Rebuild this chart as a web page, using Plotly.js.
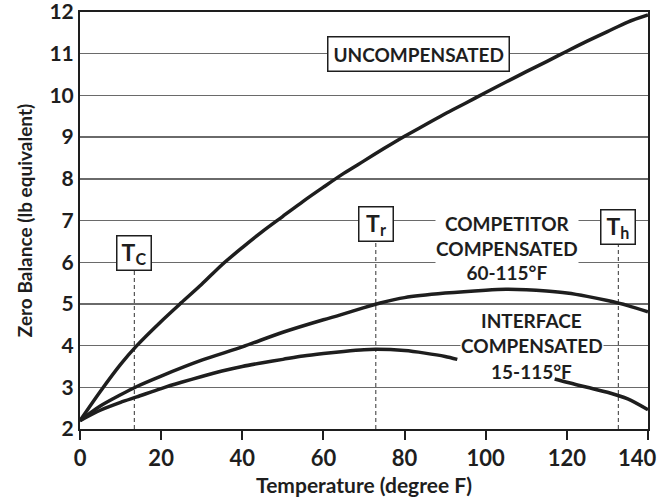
<!DOCTYPE html>
<html><head><meta charset="utf-8">
<script src="https://cdn.plot.ly/plotly-3.0.1.min.js"></script>
<style>html,body{margin:0;padding:0;background:#fff}</style>
</head><body><div id="chart" style="width:659px;height:499px"></div>
<script>
// ---- data ----
const uncompTemps = [0,5,10,14,20,25,30,35,40,45,50,55,60,65,70,75,80,85,90,95,100,105,110,115,120,125,130,135,140];
const uncompVals  = [2.2,2.9,3.55,4.0,4.58,5.03,5.47,5.94,6.35,6.74,7.1,7.46,7.8,8.13,8.43,8.73,9.02,9.29,9.56,9.81,10.07,10.32,10.57,10.81,11.06,11.3,11.53,11.76,11.93];

const competitorTemps = [0,5,10,14,20,30,40,50,60,64,70,74,80,90,100,105,110,115,120,125,130,135,140];
const competitorVals  = [2.2,2.55,2.82,3.02,3.27,3.65,3.97,4.32,4.62,4.73,4.91,5.02,5.15,5.26,5.33,5.35,5.34,5.31,5.26,5.18,5.08,4.96,4.81];

const interfaceTemps = [0,5,10,14,20,25,30,35,40,45,50,55,60,65,70,73,80,85,90,93,105,117,120,125,130,135,140];
const interfaceVals  = [2.2,2.45,2.64,2.77,2.97,3.12,3.26,3.39,3.5,3.59,3.67,3.75,3.81,3.86,3.9,3.91,3.88,3.82,3.74,3.67,null,3.2,3.12,3.0,2.88,2.72,2.46];

const refTemps  = [13.4, 72.9, 132.7];
const refLabels = ['T<sub>C</sub>', 'T<sub>r</sub>', 'T<sub>h</sub>'];

const xTickVals = [0,20,40,60,80,100,120,140];
const xTickText = ['0','20','40','60','80','100','120','140'];
const yTickVals = [2,3,4,5,6,7,8,9,10,11,12];

// ---- layout helpers ----
const FONT = 'Lato, "Open Sans", sans-serif';
const INK = '#1e1e1e';
const refBoxY = [6.21, 6.92, 6.85];
const lastIdx = xTickText.length - 1;
// last label sits flush against the right edge (as in the reference): drawn as a right-anchored annotation
const xTickShown = xTickText.map((s, i) => i === lastIdx ? '' : s);

const curveStyle = {color: INK, width: 3.5, shape: 'spline', smoothing: 0.8};

const traces = [];
refTemps.forEach((t, i) => {
  traces.push({x: [t, t], y: [2, refBoxY[i]], mode: 'lines', hoverinfo: 'skip',
    line: {color: '#555', width: 1.2, dash: '4px,3px'}, showlegend: false});
});
traces.push({x: uncompTemps, y: uncompVals, mode: 'lines', line: curveStyle, showlegend: false, name: 'UNCOMPENSATED'});
traces.push({x: competitorTemps, y: competitorVals, mode: 'lines', line: curveStyle, showlegend: false, name: 'COMPETITOR COMPENSATED'});
traces.push({x: interfaceTemps, y: interfaceVals, mode: 'lines', line: curveStyle, connectgaps: false, showlegend: false, name: 'INTERFACE COMPENSATED'});

const tickFont = {family: FONT, size: 22, color: INK, weight: 'bold'};
const yTickFont = {family: FONT, size: 21, color: INK, weight: 'bold'};
const labelFont = {family: FONT, size: 19, color: INK, weight: 'bold'};
const annotations = [
  {x: 83.4, y: 11, text: 'UNCOMPENSATED', showarrow: false, font: labelFont,
   bgcolor: '#fff', bordercolor: INK, borderwidth: 1.5, borderpad: 5},
  {x: 105.2, y: 6.34, text: 'COMPETITOR<br>COMPENSATED<br>60-115°F', showarrow: false, font: labelFont,
   bgcolor: '#fff', borderpad: 0},
  {x: 111.3, y: 4.61, text: 'INTERFACE', showarrow: false, font: labelFont},
  {x: 111.3, y: 4.01, text: 'COMPENSATED', showarrow: false, font: labelFont, bgcolor: '#fff', borderpad: 0},
  {x: 111.3, y: 3.37, text: '15-115°F', showarrow: false, font: labelFont},
  {x: xTickVals[lastIdx], xref: 'x', y: 0, yref: 'paper', text: xTickText[lastIdx], showarrow: false,
   font: tickFont, xanchor: 'right', yanchor: 'middle', xshift: 10, yshift: -28, borderpad: 0}
];
refTemps.forEach((t, i) => {
  annotations.push({x: t, y: refBoxY[i], text: refLabels[i], showarrow: false,
    font: {family: FONT, size: 23, color: INK, weight: 'bold'},
    bgcolor: '#fff', bordercolor: INK, borderwidth: 1.5, width: 31, height: 31, borderpad: 1});
});

const layout = {
  width: 659, height: 499,
  margin: {l: 80, r: 11, t: 12, b: 70},
  paper_bgcolor: '#fff', plot_bgcolor: '#fff',
  font: {family: FONT, color: INK},
  xaxis: {
    range: [-0.0005, 140.0005], tickvals: xTickVals, ticktext: xTickShown,
    ticks: 'outside', ticklen: 9, tickwidth: 2, tickcolor: INK,
    showline: true, linewidth: 2, linecolor: INK, mirror: true, showgrid: false, zeroline: false,
    ticklabeloverflow: 'allow', automargin: false,
    tickfont: tickFont,
    title: {text: 'Temperature (degree F)', font: {family: FONT, size: 21, color: INK, weight: 'bold'}, standoff: 8}
  },
  yaxis: {
    range: [1.99999, 12.00001], tickvals: yTickVals, ticks: '', showline: true, linewidth: 2, linecolor: INK, mirror: true,
    showgrid: true, gridcolor: '#6a6a6a', gridwidth: 1.4, zeroline: false,
    ticklabeloverflow: 'allow', automargin: false, ticklabelstandoff: 0,
    tickfont: yTickFont,
    title: {text: 'Zero Balance (lb equivalent)', font: {family: FONT, size: 19, color: INK, weight: 'bold'}, standoff: 12}
  },
  annotations: annotations,
  shapes: [{type: 'line', xref: 'paper', x0: 0, x1: 1, yref: 'y', y0: 7, y1: 7, layer: 'below',
            line: {color: INK, width: 1.2}}]
};

Plotly.newPlot('chart', traces, layout, {displayModeBar: false, staticPlot: true});
</script></body></html>
